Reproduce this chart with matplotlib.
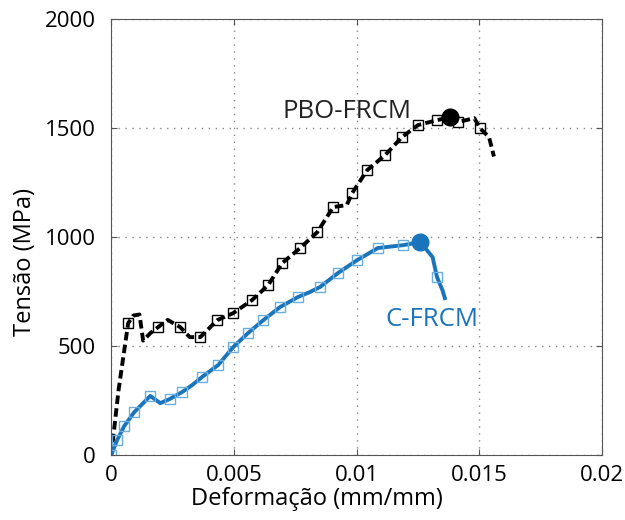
import matplotlib.pyplot as plt

plt.rcParams['font.family'] = ['Open Sans', 'DejaVu Sans']

# PBO-FRCM curve
pbo_strain = [0.0, 0.0003, 0.00069, 0.0009, 0.00115, 0.0013, 0.0016, 0.00191, 0.0023,
              0.00281, 0.0032, 0.00363, 0.00432, 0.00497, 0.00574, 0.0064, 0.00697, 0.0077,
              0.0084, 0.00905, 0.0096, 0.00982, 0.01043, 0.01116, 0.01185, 0.0125, 0.01328,
              0.0138, 0.01413, 0.0148, 0.01503, 0.0154, 0.0156]
pbo_stress = [0, 300, 605, 640, 645, 525, 560, 587, 620,
              587, 541, 541, 619, 651, 711, 780, 881, 950,
              1023, 1138, 1147, 1202, 1307, 1376, 1459, 1514, 1537,
              1550, 1528, 1546, 1500, 1459, 1370]
pbo_marks = [2, 7, 9, 11, 12, 13, 14, 15, 16, 17, 18, 19, 21, 22, 23, 24, 25, 26, 28, 30]

# C-FRCM curve
c_strain = [0.0, 0.00024, 0.00053, 0.00094, 0.00159, 0.0020, 0.0024, 0.00289, 0.0033,
            0.0037, 0.00436, 0.00497, 0.00558, 0.0062, 0.00688, 0.00761, 0.0081, 0.00851,
            0.00924, 0.01002, 0.01087, 0.01189, 0.0126, 0.0131, 0.01328, 0.0135, 0.0136]
c_stress = [0, 69, 133, 197, 271, 238, 258, 289, 321,
            358, 413, 495, 560, 619, 679, 725, 748, 771,
            835, 894, 950, 963, 977, 908, 816, 757, 720]
c_marks = [0, 1, 2, 3, 4, 6, 7, 9, 10, 11, 12, 13, 14, 15, 17, 18, 19, 20, 21, 24]

# peaks
pbo_peak = (0.0138, 1550)
c_peak = (0.0126, 977)

blue = '#1a74bb'

fig = plt.figure(figsize=(6.25, 5.2), dpi=100)
ax = fig.add_axes([0.178, 0.125, 0.785, 0.838])

ax.plot(pbo_strain, pbo_stress, color='black', ls=(0, (2.2, 1.1)), lw=2.8,
        marker='s', ms=6.5, mfc='none', mec='black', mew=1, markevery=pbo_marks)
ax.plot(c_strain, c_stress, color=blue, lw=2.8,
        marker='s', ms=6.5, mfc='none', mec='#6aaee0', mew=1, markevery=c_marks)

ax.plot(*pbo_peak, 'o', color='black', ms=12)
ax.plot(*c_peak, 'o', color=blue, ms=12)

ax.text(0.0096, 1578, 'PBO-FRCM', fontsize=18.5, color='#222222', ha='center', va='center')
ax.text(0.01308, 624, 'C-FRCM', fontsize=18.5, color=blue, ha='center', va='center')

ax.set_xlim(0, 0.02)
ax.set_ylim(0, 2000)
ax.set_xticks([0, 0.005, 0.01, 0.015, 0.02])
ax.set_xticklabels(['0', '0.005', '0.01', '0.015', '0.02'])
ax.set_yticks([0, 500, 1000, 1500, 2000])
ax.tick_params(direction='in', labelsize=16, length=4, right=True, top=True, color='#555555')
ax.tick_params(axis='x', pad=7)
ax.tick_params(axis='y', pad=11)
ax.grid(True, ls=(0, (1, 4)), color='#888888', lw=1)
for s in ax.spines.values():
    s.set_color('#555555')

ax.set_xlabel('Deformação (mm/mm)', fontsize=17)
ax.set_ylabel('Tensão (MPa)', fontsize=17)
ax.xaxis.set_label_coords(0.42, -0.073)
ax.yaxis.set_label_coords(-0.151, 0.443)

fig.savefig('out.png', dpi=100)
plt.close()
